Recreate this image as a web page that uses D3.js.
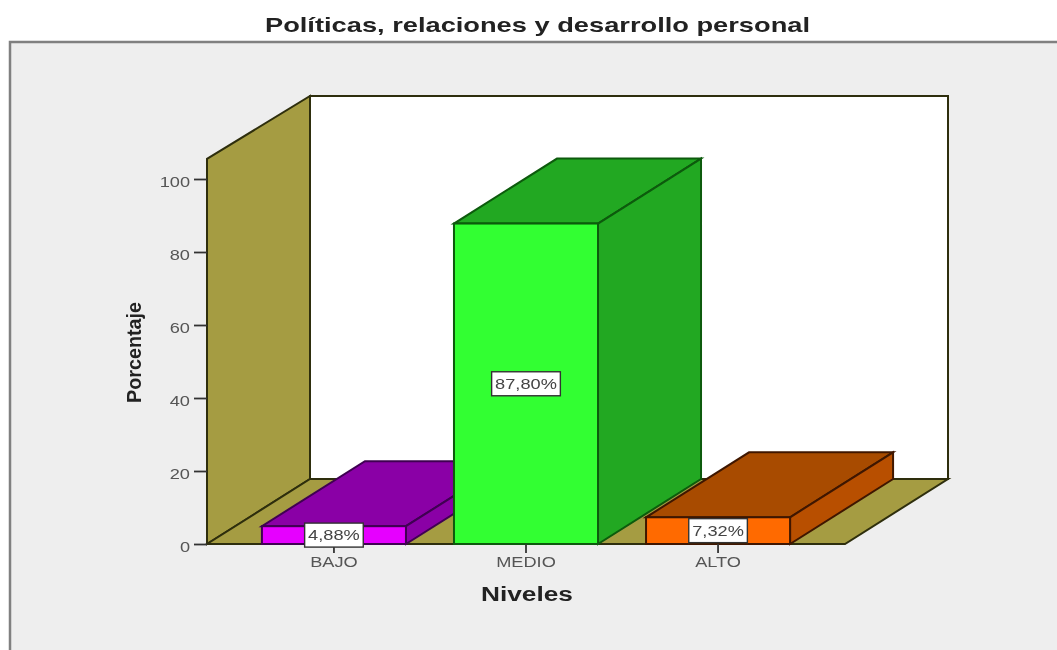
<!DOCTYPE html>
<html><head><meta charset="utf-8">
<script src="https://cdnjs.cloudflare.com/ajax/libs/d3/7.8.5/d3.min.js"></script>
<style>html,body{margin:0;padding:0;background:#fff}svg{display:block}text{font-family:"Liberation Sans",Arial,sans-serif}</style>
</head><body><svg id="c" width="1057" height="650"></svg>
<script>
const categories = ["BAJO","MEDIO","ALTO"];
const values = [4.88,87.80,7.32];
const labels = ["4,88%","87,80%","7,32%"];
const frontColors = ["#e600ff","#33ff33","#ff6a00"];
const topColors = ["#8a00a6","#22a822","#a84c00"];
const sideColors = ["#8a00a6","#22a822","#b84f00"];
const edgeColors = ["#3f0052","#0b5a0b","#3f1800"];
const yTicks = [0,20,40,60,80,100];

const svg = d3.select("#c");
const W = 1057, H = 650;
const dx = 103, dy = -65, dyWallTop = -63;
const x = d3.scaleBand().domain(categories).range([207,845]).paddingInner(0.25).paddingOuter(0.286);
const y = d3.scaleLinear().domain([0,100]).range([544,179]);
const yTopVal = 105.5;
const line = "#2e2e0c";
const pts = a => a.map(p=>p.join(",")).join(" ");
const stretch = (sel,f) => sel.each(function(){
  const L=this.getComputedTextLength();
  d3.select(this).attr("textLength",L*f).attr("lengthAdjust","spacingAndGlyphs");
});

const defs = svg.append("defs");
defs.append("filter").attr("id","soft").attr("filterUnits","userSpaceOnUse")
  .attr("x",0).attr("y",0).attr("width",W).attr("height",H)
  .append("feGaussianBlur").attr("stdDeviation",0.6);

const root = svg.append("g").attr("filter","url(#soft)");
root.append("rect").attr("width",W).attr("height",H).attr("fill","#fff");
root.append("rect").attr("x",10).attr("y",42).attr("width",W).attr("height",H).attr("fill","#eeeeee").attr("stroke","#808080").attr("stroke-width",2.5);

const x0=x.range()[0], x1=x.range()[1], y0=y(0), yt=y(yTopVal);
root.append("polygon").attr("points",pts([[x0+dx,y0+dy],[x1+dx,y0+dy],[x1+dx,yt+dyWallTop],[x0+dx,yt+dyWallTop]])).attr("fill","#fff").attr("stroke",line).attr("stroke-width",2);
root.append("polygon").attr("points",pts([[x0,y0],[x0+dx,y0+dy],[x0+dx,yt+dyWallTop],[x0,yt]])).attr("fill","#a59c43").attr("stroke",line).attr("stroke-width",2);
root.append("polygon").attr("points",pts([[x0,y0],[x1,y0],[x1+dx,y0+dy],[x0+dx,y0+dy]])).attr("fill","#a59c43").attr("stroke",line).attr("stroke-width",2);

const order = [0,2,1];
const g = root.append("g");
order.forEach(i=>{
  const c=categories[i], l=x(c), r=l+x.bandwidth(), t=y(values[i]), b=y(0);
  const e=edgeColors[i], w=2;
  g.append("polygon").attr("points",pts([[l,t],[r,t],[r+dx,t+dy],[l+dx,t+dy]])).attr("fill",topColors[i]).attr("stroke",e).attr("stroke-width",w);
  g.append("polygon").attr("points",pts([[r,t],[r+dx,t+dy],[r+dx,b+dy],[r,b]])).attr("fill",sideColors[i]).attr("stroke",e).attr("stroke-width",w);
  g.append("rect").attr("x",l).attr("y",t).attr("width",r-l).attr("height",b-t).attr("fill",frontColors[i]).attr("stroke",e).attr("stroke-width",w);
});

const axL = root.append("g").attr("transform",`translate(${x0},0)`).call(d3.axisLeft(y).tickValues(yTicks).tickSize(13).tickPadding(4));
axL.select(".domain").remove();
axL.selectAll("line").attr("stroke","#333").attr("stroke-width",1.8);
axL.selectAll("text").attr("font-size",14).attr("fill","#555").attr("dy","0.5em").call(stretch,1.3);
const axB = root.append("g").attr("transform",`translate(0,${y0})`).call(d3.axisBottom(x).tickSize(9).tickPadding(4));
axB.select(".domain").remove();
axB.selectAll("line").attr("stroke","#333").attr("stroke-width",1.8);
axB.selectAll("text").attr("font-size",14).attr("fill","#555").call(stretch,1.3);

const lg = root.append("g");
categories.forEach((c,i)=>{
  const cx=x(c)+x.bandwidth()/2, cy=y(values[i]/2);
  const t=lg.append("text").attr("x",cx).attr("y",cy).attr("dy","0.36em").attr("text-anchor","middle").attr("font-size",14).attr("fill","#444").text(labels[i]);
  const w=t.node().getComputedTextLength()*1.3;
  t.attr("textLength",w).attr("lengthAdjust","spacingAndGlyphs");
  lg.insert("rect","text").attr("x",cx-w/2-3.5).attr("y",cy-12).attr("width",w+7).attr("height",24).attr("fill","#fff").attr("stroke","#333").attr("stroke-width",1.4);
});

root.append("text").attr("x",537.5).attr("y",32).attr("text-anchor","middle").attr("font-size",20.5).attr("font-weight","bold").attr("textLength",545).attr("lengthAdjust","spacingAndGlyphs").attr("fill","#222").text("Políticas, relaciones y desarrollo personal");
root.append("text").attr("x",527).attr("y",601).attr("text-anchor","middle").attr("font-size",19.5).attr("font-weight","bold").attr("textLength",92).attr("lengthAdjust","spacingAndGlyphs").attr("fill","#222").text("Niveles");
root.append("text").attr("transform","translate(141,352.5) rotate(-90)").attr("text-anchor","middle").attr("font-size",19.5).attr("font-weight","bold").attr("textLength",101).attr("lengthAdjust","spacingAndGlyphs").attr("fill","#222").text("Porcentaje");
</script></body></html>
